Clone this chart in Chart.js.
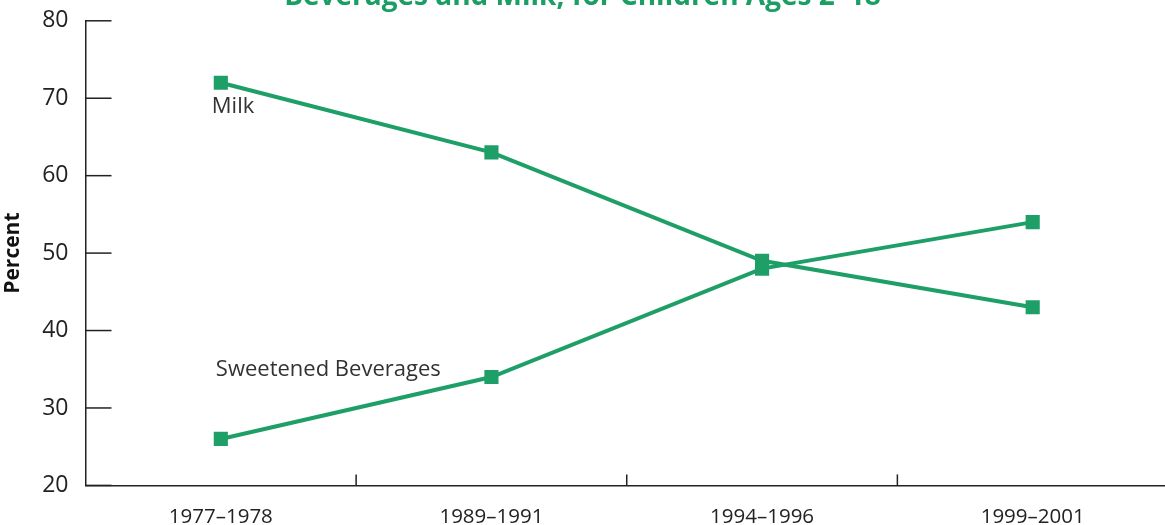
<!DOCTYPE html>
<html>
<head>
<meta charset="utf-8">
<script src="https://cdn.jsdelivr.net/npm/chart.js@4.4.1/dist/chart.umd.min.js"></script>
<style>
  html, body { margin: 0; padding: 0; background: #fff; overflow: hidden; }
  #wrap { position: relative; width: 1165px; height: 525px; overflow: hidden; }
  #line-chart { display: block; margin-top: -10px; }
  #title { position: absolute; left: 0; width: 1165px; top: -25px; text-align: center;
           font: bold 28px "Open Sans", sans-serif; color: #1a9e64; padding-left: 0; }
</style>
</head>
<body>
<div id="wrap">
  <canvas id="line-chart" width="1168" height="558"></canvas>
  <div id="title">Beverages and Milk, for Children Ages 2–18</div>
</div>
<script>
var periods = ["1977–1978", "1989–1991", "1994–1996", "1999–2001"];
var milkValues = [72, 63, 49, 43];
var sweetenedValues = [26, 34, 48, 54];
var yTicks = [20, 30, 40, 50, 60, 70, 80];

var lineColor = "#1f9f68";
var inkColor = "#222222";

// inward tick marks + series labels
var axisDecor = {
    id: 'axisDecor',
    afterDatasetsDraw: function (chart) {
        var ctx = chart.ctx;
        var area = chart.chartArea;
        var xs = chart.scales.x;
        var ys = chart.scales.y;
        ctx.save();
        ctx.strokeStyle = inkColor;
        ctx.lineWidth = 1.5;
        for (var i = 0; i < yTicks.length; i++) {
            var y = ys.getPixelForValue(yTicks[i]);
            ctx.beginPath();
            ctx.moveTo(area.left, y);
            ctx.lineTo(area.left + 26, y);
            ctx.stroke();
        }
        for (var j = 0; j < periods.length - 1; j++) {
            var x = (xs.getPixelForTick(j) + xs.getPixelForTick(j + 1)) / 2;
            ctx.beginPath();
            ctx.moveTo(x, area.bottom);
            ctx.lineTo(x, area.bottom - 11);
            ctx.stroke();
        }
        ctx.fillStyle = "#333";
        ctx.font = "22px 'Open Sans', sans-serif";
        ctx.textBaseline = "middle";
        ctx.textAlign = "left";
        ctx.fillText("Milk", xs.getPixelForTick(0) - 9, ys.getPixelForValue(milkValues[0]) + 24);
        ctx.fillText("Sweetened Beverages", xs.getPixelForTick(0) - 5, ys.getPixelForValue(sweetenedValues[1] + 1.0));
        ctx.restore();
    }
};

new Chart(document.getElementById("line-chart"), {
    type: 'line',
    data: {
        labels: periods,
        datasets: [
            {
                label: 'Milk',
                data: milkValues,
                borderColor: lineColor,
                backgroundColor: lineColor,
                borderWidth: 4,
                pointStyle: 'rect',
                pointRadius: 10,
                pointBorderWidth: 0,
                tension: 0
            },
            {
                label: 'Sweetened Beverages',
                data: sweetenedValues,
                borderColor: lineColor,
                backgroundColor: lineColor,
                borderWidth: 4,
                pointStyle: 'rect',
                pointRadius: 10,
                pointBorderWidth: 0,
                tension: 0
            }
        ]
    },
    options: {
        responsive: false,
        animation: false,
        layout: { autoPadding: false, padding: { top: 7, right: 0, left: 0, bottom: 0 } },
        plugins: {
            legend: { display: false },
            title: { display: false },
            tooltip: { enabled: false }
        },
        scales: {
            x: {
                offset: true,
                grid: { display: false, drawTicks: false },
                border: { display: true, color: inkColor, width: 1.5 },
                ticks: {
                    color: "#222",
                    padding: 19,
                    font: { family: "'Open Sans', sans-serif", size: 20.5 },
                    maxRotation: 0
                }
            },
            y: {
                min: 20,
                max: 80,
                afterBuildTicks: function (scale) {
                    scale.ticks = yTicks.map(function (v) { return { value: v }; });
                },
                grid: { display: false, drawTicks: false },
                border: { display: true, color: inkColor, width: 1.5 },
                ticks: {
                    color: "#222",
                    padding: 17,
                    font: { family: "'Open Sans', sans-serif", size: 23 }
                },
                title: {
                    display: true,
                    text: 'Percent',
                    color: "#111",
                    padding: { top: 0, bottom: 0 },
                    font: { family: "'Open Sans', sans-serif", size: 21, weight: 'bold' }
                }
            }
        }
    },
    plugins: [axisDecor]
});
</script>
</body>
</html>
